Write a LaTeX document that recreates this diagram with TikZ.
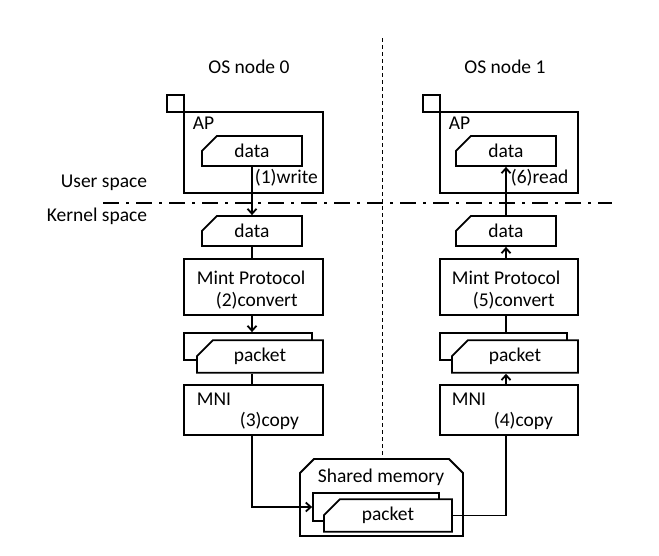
\documentclass[tikz,border=0pt]{standalone}
\usepackage{fontspec}
\setmainfont{Carlito}
\usetikzlibrary{shapes.misc,arrows.meta,positioning,calc}

\begin{document}
\begin{tikzpicture}
    [x=1pt,y=-1pt,
    line width=1.8pt,
    every node/.style={font=\fontsize{19.5}{22}\selectfont},
    block/.style 2 args={
        draw,
        fill=white,
        inner sep=0pt,
        minimum width=#1,
        minimum height=#2
    },
    tag/.style 2 args={
        block={#1}{#2},
        chamfered rectangle,
        chamfered rectangle corners=north west,
        chamfered rectangle xsep=8pt,
        chamfered rectangle ysep=8pt
    },
    tag/.default={100pt}{30pt},
    note/.style={anchor=base west, inner sep=0pt},
    side note/.style={anchor=base east, inner sep=0pt},
    arrow/.style={-{Straight Barb[length=5pt,width=9pt]}},
    divider/.style={line width=0.8pt, dash pattern=on 4pt off 3pt},
    boundary/.style={dash pattern=on 16pt off 7pt on 3pt off 7pt}]

    \useasboundingbox (0,0) rectangle (659,555);

    %%% content
    \node (os0) [anchor=base] at (249,73) {OS node 0};
    \node (os1) [anchor=base] at (505,73) {OS node 1};

    \node (user) [side note] at (148,187) {User space};
    \node (kernel) [side note] at (148,221) {Kernel space};

    % OS node 0
    \node (sq0) [block={17pt}{17pt}] at (175.5,103.5) {};
    \node (ap0) [block={139pt}{81pt}] at (253.5,152.5) {};
    \node [note] at (192,129) {AP};
    \node (apdata0) [tag] at (252,151) {data};
    \node [note] at (254,183) {(1)write};
    \node (kdata0) [tag] at (252,231) {data};
    \node (mint0) [block={139pt}{56pt}] at (253.5,287) {};
    \node [note] at (196,284) {Mint Protocol};
    \node [note] at (215,306) {(2)convert};
    \node (pktb0) [tag={128pt}{27pt}] at (248,346.5) {};
    \node (pkt0) [tag={126pt}{27pt}] at (260,356.5) {packet};
    \node (mni0) [block={139pt}{50pt}] at (253.5,410) {};
    \node [note] at (196,405) {MNI};
    \node [note] at (239,426) {(3)copy};

    % OS node 1
    \node (sq1) [block={17pt}{17pt}] at (431.5,103.5) {};
    \node (ap1) [block={138pt}{81pt}] at (509,152.5) {};
    \node [note] at (448,129) {AP};
    \node (apdata1) [tag] at (506,151) {data};
    \node [note] at (510,183) {(6)read};
    \node (kdata1) [tag] at (506,231) {data};
    \node (mint1) [block={138pt}{56pt}] at (509,287) {};
    \node [note] at (451,284) {Mint Protocol};
    \node [note] at (472,306) {(5)convert};
    \node (pktb1) [tag={127pt}{27pt}] at (503.5,346.5) {};
    \node (pkt1) [tag={126pt}{27pt}] at (515,356.5) {packet};
    \node (mni1) [block={138pt}{50pt}] at (509,410) {};
    \node [note] at (451,405) {MNI};
    \node [note] at (493,426) {(4)copy};

    % shared memory
    \node (shm) [block={163pt}{77pt}, draw=none, outer sep=0pt] at (381.5,497.5) {};
    \draw (shm.south west) -- ([yshift=-14pt]shm.north west)
        -- ([xshift=14pt]shm.north west) -- ([xshift=-14pt]shm.north east)
        -- ([yshift=-14pt]shm.north east) -- (shm.south east) -- cycle;
    \node [note] at (317,482) {Shared memory};
    \node (shpktb) [tag={126pt}{28pt}] at (376,507) {};
    \node (shpkt) [tag={128pt}{27pt}] at (388,515.5) {packet};

    %% lines
    \coordinate (divtop) at (382,38);
    \draw[divider] (divtop) -- (divtop |- shm.north);
    \coordinate (spaceleft) at (103,203);
    \coordinate (spaceright) at (612,203);
    \draw[boundary] (spaceleft) -- (spaceright);

    \draw[arrow] (apdata0.south) -- (kdata0.north);
    \draw (kdata0.south) -- (kdata0.south |- mint0.north);
    \draw[arrow] (kdata0.south |- mint0.south) -- (kdata0.south |- pktb0.north);
    \draw (kdata0.south |- pkt0.south) -- (kdata0.south |- mni0.north);
    \draw[arrow] (kdata0.south |- mni0.south) |- (shpktb.west);

    \draw (shpkt.east) -| (kdata1.south |- mni1.south);
    \draw[arrow] (kdata1.south |- mni1.north) -- (kdata1.south |- pkt1.south);
    \draw (kdata1.south |- pktb1.north) -- (kdata1.south |- mint1.south);
    \draw[arrow] (kdata1.south |- mint1.north) -- (kdata1.south);
    \draw[arrow] (kdata1.north) -- (apdata1.south);
\end{tikzpicture}
\end{document}
